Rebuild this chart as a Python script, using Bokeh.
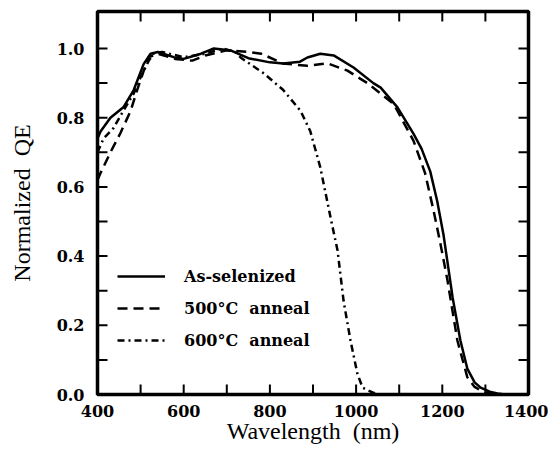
from bokeh.plotting import figure
from bokeh.models import Range1d, FixedTicker, Legend, LegendItem
from bokeh.embed import file_html
from bokeh.resources import INLINE

# Data
wl_as = [400, 407, 430, 460, 484, 507, 523, 540, 577, 600, 640, 670, 710, 750, 800, 831, 870, 887, 917, 948, 994, 1040, 1057, 1096, 1133, 1152, 1172, 1188, 1203, 1224, 1242, 1258, 1275, 1289, 1310, 1328, 1345]
qe_as = [0.74, 0.76, 0.80, 0.83, 0.88, 0.955, 0.985, 0.99, 0.975, 0.97, 0.985, 1.0, 0.994, 0.972, 0.96, 0.957, 0.962, 0.974, 0.985, 0.98, 0.945, 0.90, 0.887, 0.83, 0.754, 0.71, 0.645, 0.56, 0.46, 0.28, 0.156, 0.075, 0.035, 0.02, 0.008, 0.003, 0.0]

wl_500 = [400, 407, 430, 453, 477, 492, 507, 519, 540, 580, 620, 650, 700, 750, 780, 830, 887, 934, 980, 1026, 1087, 1133, 1160, 1180, 1195, 1212, 1235, 1258, 1275, 1289, 1315]
qe_500 = [0.62, 0.64, 0.70, 0.755, 0.82, 0.88, 0.935, 0.975, 0.985, 0.97, 0.965, 0.98, 0.995, 0.99, 0.985, 0.957, 0.95, 0.957, 0.936, 0.90, 0.84, 0.734, 0.64, 0.53, 0.44, 0.33, 0.156, 0.05, 0.022, 0.012, 0.0]

wl_600 = [400, 414, 437, 460, 484, 500, 519, 530, 550, 600, 650, 690, 720, 732, 786, 831, 871, 894, 917, 941, 957, 971, 987, 1003, 1015, 1038, 1055]
qe_600 = [0.70, 0.74, 0.77, 0.82, 0.87, 0.917, 0.965, 0.985, 0.99, 0.975, 0.985, 1.0, 0.99, 0.974, 0.928, 0.88, 0.82, 0.76, 0.656, 0.51, 0.416, 0.27, 0.156, 0.06, 0.02, 0.006, 0.0]

labels = ["As-selenized", "500\u00b0C  anneal", "600\u00b0C  anneal"]

x_start, x_end = 400, 1400
y_start, y_end = 0.0, 1.107
x_major = [400, 600, 800, 1000, 1200, 1400]
x_minor = [500, 700, 900, 1100, 1300]
y_major = [0.0, 0.2, 0.4, 0.6, 0.8, 1.0]
y_minor = [0.1, 0.3, 0.5, 0.7, 0.9]

SERIF = "Liberation Serif"
BOLD_SERIF = "DejaVu Serif"

W, H = 548, 449
BL, BR, BT, BB = 97, 20, 11, 55

p = figure(width=W, height=H, output_backend="svg", toolbar_location=None,
           x_range=Range1d(x_start, x_end), y_range=Range1d(y_start, y_end),
           min_border_left=BL, min_border_right=BR, min_border_top=BT, min_border_bottom=BB,
           x_axis_label="Wavelength \u00a0(nm)", y_axis_label="Normalized \u00a0QE")
p.background_fill_color = "white"
p.border_fill_color = "white"
p.grid.visible = False
p.outline_line_color = "black"
p.outline_line_width = 3.5

for ax, ticks in ((p.xaxis[0], x_major), (p.yaxis[0], y_major)):
    ax.ticker = FixedTicker(ticks=ticks, minor_ticks=[])
    ax.axis_line_color = None
    ax.major_tick_line_color = None
    ax.minor_tick_line_color = None
    ax.major_tick_in = 0
    ax.major_tick_out = 0
    ax.minor_tick_in = 0
    ax.minor_tick_out = 0
    ax.major_label_text_font = BOLD_SERIF
    ax.major_label_text_font_style = "bold"
    ax.major_label_text_font_size = "16px"
    ax.major_label_text_color = "black"
    ax.axis_label_text_font = SERIF
    ax.axis_label_text_font_style = "normal"
    ax.axis_label_text_font_size = "24px"
    ax.axis_label_text_color = "black"

p.xaxis[0].major_label_standoff = 10
p.xaxis[0].axis_label_standoff = -2
p.yaxis[0].major_label_standoff = 13
p.yaxis[0].axis_label_standoff = 19
p.yaxis[0].major_label_overrides = {v: f"{v:.1f}" for v in y_major}

# inward tick marks on all four sides, 10 px long, as data-space segments
TL = 10
dx = TL * (x_end - x_start) / (W - BL - BR)
dy = TL * (y_end - y_start) / (H - BT - BB)
x_all = x_major + x_minor
y_all = y_major + y_minor
seg_kw = dict(line_color="black", line_width=2)
p.segment(x0=x_all, y0=[y_start] * len(x_all), x1=x_all, y1=[y_start + dy] * len(x_all), **seg_kw)
p.segment(x0=x_all, y0=[y_end] * len(x_all), x1=x_all, y1=[y_end - dy] * len(x_all), **seg_kw)
p.segment(x0=[x_start] * len(y_all), y0=y_all, x1=[x_start + dx] * len(y_all), y1=y_all, **seg_kw)
p.segment(x0=[x_end] * len(y_all), y0=y_all, x1=[x_end - dx] * len(y_all), y1=y_all, **seg_kw)

r1 = p.line(wl_as, qe_as, line_color="black", line_width=2.5)
r2 = p.line(wl_500, qe_500, line_color="black", line_width=2.5, line_dash="10 6")
r3 = p.line(wl_600, qe_600, line_color="black", line_width=2.5, line_dash="7 4 2 4")

legend = Legend(items=[LegendItem(label=labels[0], renderers=[r1]),
                       LegendItem(label=labels[1], renderers=[r2]),
                       LegendItem(label=labels[2], renderers=[r3])],
                location=(20, 43))
legend.background_fill_alpha = 0
legend.border_line_color = None
legend.padding = 0
legend.spacing = 10
legend.glyph_width = 48
legend.glyph_height = 22
legend.label_height = 22
legend.label_standoff = 19
legend.label_text_font = BOLD_SERIF
legend.label_text_font_style = "bold"
legend.label_text_font_size = "16px"
legend.label_text_color = "black"
p.add_layout(legend, "center")

open("out.html", "w").write(file_html(p, INLINE))
